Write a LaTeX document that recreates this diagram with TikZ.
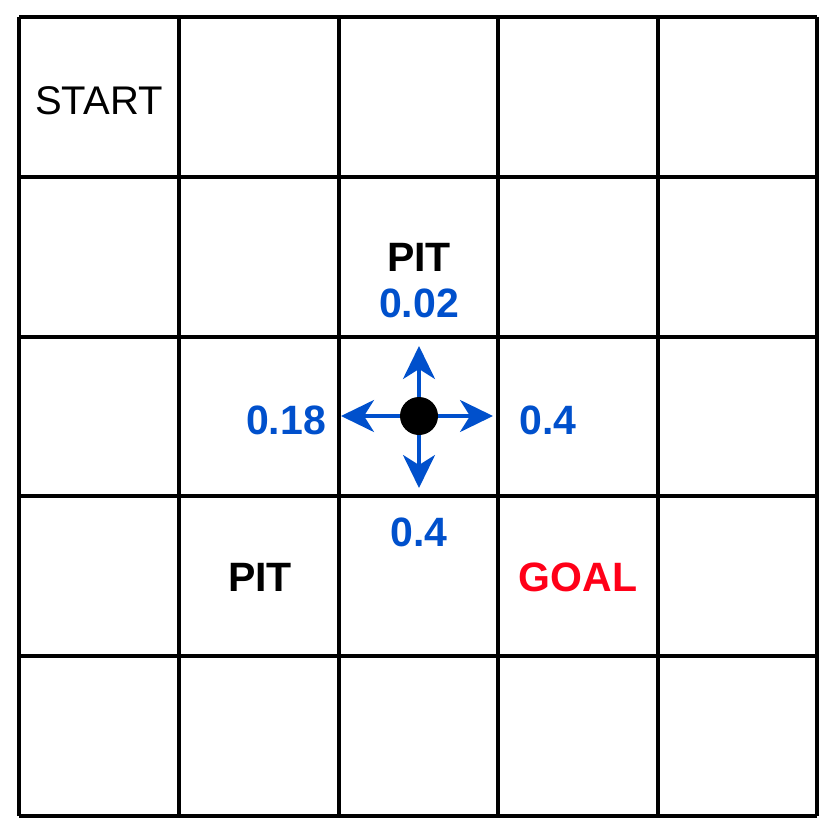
\documentclass[tikz,border=0pt]{standalone}
\usepackage{fontspec}
\setmainfont{Liberation Sans}
\usetikzlibrary{arrows.meta}
\definecolor{arrowblue}{RGB}{0,80,204}
\definecolor{goalred}{RGB}{255,0,24}
\begin{document}
\begin{tikzpicture}[x=1pt,y=-1pt,
  gridline/.style={line width=3.5pt,black},
  lbl/.style={font=\fontsize{40}{40}\selectfont},
  bold/.style={font=\fontsize{41}{41}\selectfont\bfseries},
  prob/.style={font=\fontsize{41}{41}\selectfont\bfseries,text=arrowblue},
  move/.style={line width=3.5pt,arrowblue,-{Stealth[length=33pt,width=32pt,inset=10pt]}}]
\useasboundingbox (0,0) rectangle (834,834);
\foreach \v in {19,179,339,498,658,817}{
  \draw[gridline] (\v,17) -- (\v,816);
}
\foreach \v in {17,177,337,496,656,816}{
  \draw[gridline] (19,\v) -- (817,\v);
}
\node[lbl] (start) at (99,101) {START};
\node[bold] (pit1) at (419,257) {PIT};
\node[prob] (pup) at (419,303) {0.02};
\node[prob] (pleft) at (286,420) {0.18};
\node[prob] (pright) at (548,420) {0.4};
\node[prob] (pdown) at (419,532) {0.4};
\node[bold] (pit2) at (260,577) {PIT};
\node[bold,text=goalred] (goal) at (578,577) {GOAL};
\coordinate (tup) at (419,346);
\coordinate (tdown) at (419,488);
\coordinate (tleft) at (341,416);
\coordinate (tright) at (493,416);
\node[circle,fill=black,minimum size=38pt,inner sep=0pt] (agent) at (419,416) {};
\draw[move] (agent.north) -- (tup);
\draw[move] (agent.south) -- (tdown);
\draw[move] (agent.west) -- (tleft);
\draw[move] (agent.east) -- (tright);
\end{tikzpicture}
\end{document}
